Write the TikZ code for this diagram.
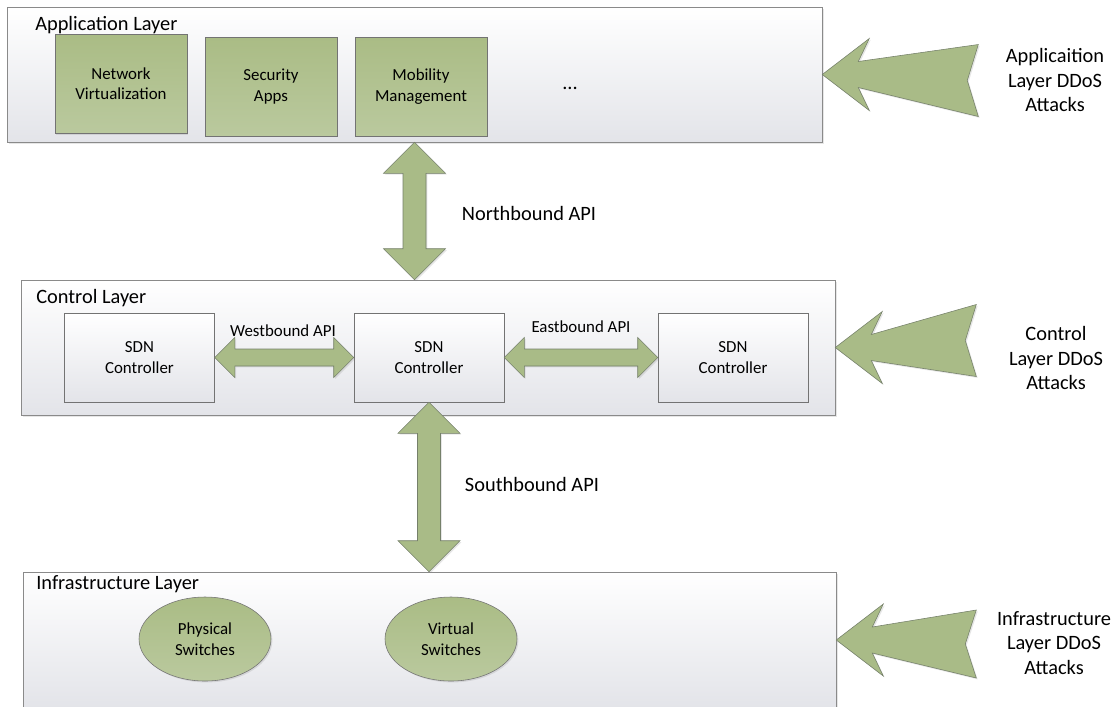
\documentclass[tikz,border=0pt]{standalone}
\usepackage{fontspec}
\setmainfont{Carlito}
\usetikzlibrary{calc,shapes.geometric,shadows}

\definecolor{layerbot}{HTML}{E3E4E9}
\definecolor{layerline}{HTML}{8A8A8A}
\definecolor{apptop}{HTML}{AABC85}
\definecolor{appbot}{HTML}{BAC99E}
\definecolor{arrowfill}{HTML}{A9BB87}
\definecolor{arrowline}{HTML}{75806A}

% fat double arrows between two tips
\newcommand{\vbiarrow}[2]{%
  \draw[fatarrow] (#1) -- ++(31,31) -- ++(-19.5,0) -- ($(#2)+(11.5,-31)$) -- ++(19.5,0)
    -- (#2) -- ++(-31,-31) -- ++(19.5,0) -- ($(#1)+(-11.5,31)$) -- ++(-19.5,0) -- cycle;}
\newcommand{\hbiarrow}[2]{%
  \draw[fatarrow] (#1) -- ++(20,-20) -- ++(0,11.5) -- ($(#2)+(-20,-8.5)$) -- ++(0,-11.5)
    -- (#2) -- ++(-20,20) -- ++(0,-11.5) -- ($(#1)+(20,8.5)$) -- ++(0,11.5) -- cycle;}
% notched attack arrow: tip, length, tail top, tail bottom
\newcommand{\attackarrow}[4]{%
  \draw[fatarrow] (#1) -- ($(#1)+(47,-36)$) -- ($(#1)+(36,-13)$) -- ($(#1)+(#2,#3)$)
    -- ($(#1)+({#2-11},{(#3+#4)/2})$) -- ($(#1)+(#2,#4)$) -- ($(#1)+(36,13)$)
    -- ($(#1)+(47,36)$) -- cycle;}

\begin{document}
\begin{tikzpicture}[x=0.025cm,y=-0.025cm]

    \tikzset{
      layer/.style={
        draw=layerline,
        top color=white,
        bottom color=layerbot,
        inner sep=0pt,
        drop shadow={shadow xshift=1.2pt,shadow yshift=-1.2pt,opacity=0.2},
      },
      appbox/.style={
        draw=black!55,
        top color=apptop,
        bottom color=appbot,
        align=center,
        inner sep=0pt,
        minimum width=132*0.025cm,
        minimum height=99*0.025cm,
        font=\fontsize{12}{14.5}\selectfont,
        drop shadow={shadow xshift=1pt,shadow yshift=-1pt,opacity=0.2},
      },
      ctrlbox/.style={
        draw=black!55,
        top color=white,
        bottom color=layerbot,
        align=center,
        inner sep=0pt,
        minimum width=150*0.025cm,
        minimum height=89*0.025cm,
        font=\fontsize{12}{14.5}\selectfont,
      },
      switch/.style={
        ellipse,
        draw=black!55,
        top color=apptop,
        bottom color=appbot,
        align=center,
        inner sep=0pt,
        minimum width=132*0.025cm,
        minimum height=84*0.025cm,
        font=\fontsize{12}{14.5}\selectfont,
        drop shadow={shadow xshift=1pt,shadow yshift=-1pt,opacity=0.2},
      },
      layerlabel/.style={anchor=base west,inner sep=0pt,font=\fontsize{14.5}{17}\selectfont},
      apilabel/.style={inner sep=0pt,font=\fontsize{14.5}{17}\selectfont},
      sidelabel/.style={inner sep=0pt,font=\fontsize{12}{14.5}\selectfont},
      attacklabel/.style={align=center,inner sep=0pt,font=\fontsize{14.5}{17.4}\selectfont},
      fatarrow/.style={draw=arrowline,fill=arrowfill,line join=miter,
        drop shadow={shadow xshift=1pt,shadow yshift=-1pt,opacity=0.2}},
    }
    \useasboundingbox (0,0) rectangle (1118,706);

    % layers
    \node[layer,minimum width=815*0.025cm,minimum height=135*0.025cm] (app) at (414.5,74.5) {};
    \node[layer,minimum width=814*0.025cm,minimum height=135*0.025cm] (ctrl) at (428,347.5) {};
    \node[layer,minimum width=813*0.025cm,minimum height=136*0.025cm] (infra) at (429.5,640) {};
    \node[layerlabel] (applbl) at (35,30) {Application Layer};
    \node[layerlabel] (ctrllbl) at (36,303) {Control Layer};
    \node[layerlabel] (infralbl) at (36,589) {Infrastructure Layer};

    % application layer
    \node[appbox] (netvirt) at (121,84) {Network\\Virtualization};
    \node[appbox] (secapps) at (271,86.5) {Security\\Apps};
    \node[appbox] (mobility) at (421,86.5) {Mobility\\Management};
    \node[apilabel] (moreapps) at (570,88) {...};

    % control layer
    \node[ctrlbox] (sdnwest) at (139.5,357.5) {SDN\\Controller};
    \node[ctrlbox] (sdnmain) at (429,357.5) {SDN\\Controller};
    \node[ctrlbox] (sdneast) at (733,357.5) {SDN\\Controller};

    % infrastructure layer
    \node[switch] (physsw) at (205,639) {Physical\\Switches};
    \node[switch] (virtsw) at (451,639) {Virtual\\Switches};

    % APIs
    \vbiarrow{app.south}{app.south |- ctrl.north}
    \vbiarrow{sdnmain.south}{sdnmain.south |- infra.north}
    \hbiarrow{sdnwest.east}{sdnmain.west}
    \hbiarrow{sdnmain.east}{sdneast.west}
    \node[apilabel] (northapi) at (529,213) {Northbound API};
    \node[apilabel] (southapi) at (532,484) {Southbound API};
    \node[sidelabel] (westapi) at (283,331) {Westbound API};
    \node[sidelabel] (eastapi) at (581,327) {Eastbound API};

    % attacks
    \attackarrow{app.east}{156}{-30}{42}
    \attackarrow{ctrl.east}{141}{-43}{29}
    \attackarrow{infra.east}{140}{-30}{38}
    \node[attacklabel] (appatk) at (1055,80) {Applicaition\\Layer DDoS\\Attacks};
    \node[attacklabel] (ctrlatk) at (1056,358) {Control\\Layer DDoS\\Attacks};
    \node[attacklabel] (infraatk) at (1054,643) {Infrastructure\\Layer DDoS\\Attacks};

\end{tikzpicture}
\end{document}
